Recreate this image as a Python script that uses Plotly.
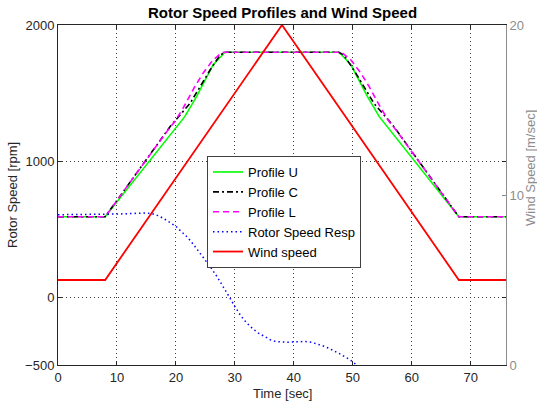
import plotly.graph_objects as go

# ---- data ----
t_u = [0, 8, 21.5, 23.5, 26.3, 28.3, 47.7, 49.7, 52.5, 54.5, 68, 76]
prof_u = [590, 590, 1326, 1473, 1706, 1800, 1800, 1706, 1473, 1326, 590, 590]

t_c = [0, 8, 19.0, 20.7, 22.4, 24.1, 25.8, 27.5, 28.4, 47.6, 48.5, 50.2, 51.9, 53.6, 55.3, 57.0, 68, 76]
prof_c = [590, 590, 1252, 1338, 1424, 1546, 1669, 1779, 1800, 1800, 1779, 1669, 1546, 1424, 1338, 1252, 590, 590]

t_l = [0, 8, 18.6, 19.8, 21.2, 23.2, 24.6, 26.3, 27.8, 28.2, 47.8, 48.2, 49.7, 51.4, 52.8, 54.8, 56.2, 57.4, 68, 76]
prof_l = [590, 590, 1225, 1289, 1387, 1546, 1645, 1743, 1796, 1800, 1800, 1796, 1743, 1645, 1546, 1387, 1289, 1225, 590, 590]

t_resp = [0, 2, 4, 6, 8, 10, 12, 14, 15, 16, 17, 18, 19, 20, 21, 22, 23, 24, 25, 26, 27, 28,
          29, 30, 31, 32, 33, 34, 35, 36, 37, 38, 39, 40, 41, 42, 43, 44, 45, 46, 47, 48, 49, 50, 50.5]
resp = [605, 605, 606, 607, 608, 610, 613, 617, 618, 612, 598, 575, 550, 520, 478, 438, 385, 330, 272, 212, 148, 80,
        5, -70, -138, -190, -232, -265, -292, -314, -328, -333, -333, -330, -327, -327, -333, -345, -360, -378, -398, -422, -448, -475, -495]

t_wind = [0, 8, 38, 68, 76]
wind = [5, 5, 20, 5, 5]

x_ticks = [0, 10, 20, 30, 40, 50, 60, 70]
y_ticks = [-500, 0, 1000, 2000]
y2_ticks = [0, 10, 20]

FONT = "Liberation Sans, Arial, sans-serif"
AX = "#262626"
GRAY = "#8c8c8c"
GRID = "#3a3a3a"

fig = go.Figure()
fig.add_trace(go.Scatter(x=t_u, y=prof_u, mode="lines", name="Profile U",
                         line=dict(color="#00ff00", width=1.6)))
fig.add_trace(go.Scatter(x=t_c, y=prof_c, mode="lines", name="Profile C",
                         line=dict(color="black", width=1.6, dash="6px,3px,2px,3px")))
fig.add_trace(go.Scatter(x=t_l, y=prof_l, mode="lines", name="Profile L",
                         line=dict(color="#ff00ff", width=1.6, dash="6px,4px")))
fig.add_trace(go.Scatter(x=t_resp, y=resp, mode="lines", name="Rotor Speed Resp",
                         line=dict(color="#0000ff", width=1.5, dash="1.5px,3px")))
fig.add_trace(go.Scatter(x=t_wind, y=wind, mode="lines", name="Wind speed", yaxis="y2",
                         line=dict(color="#ff0000", width=1.8)))

fig.update_layout(
    width=537, height=406,
    margin=dict(l=58, r=31, t=25, b=41, autoexpand=False),
    paper_bgcolor="white", plot_bgcolor="white",
    font=dict(family=FONT, size=13, color=AX),
    showlegend=True,
    legend=dict(x=(207 - 58) / 448, y=(365 - 156) / 340, xanchor="left", yanchor="top",
                bgcolor="white", bordercolor="#404040", borderwidth=1,
                font=dict(family=FONT, size=13, color="black"),
                tracegroupgap=0, itemwidth=30),
    xaxis=dict(range=[0, 76], tickvals=x_ticks, ticks="inside", ticklen=4, tickcolor=AX,
               showline=True, linecolor=AX, linewidth=1, mirror="ticks",
               showgrid=True, gridcolor=GRID, griddash="1px,3px", gridwidth=1,
               zeroline=False, tickfont=dict(size=13, color=AX)),
    yaxis=dict(range=[-500, 2000], tickvals=y_ticks, ticks="inside", ticklen=4, tickcolor=AX,
               showline=True, linecolor=AX, linewidth=1, mirror="ticks",
               showgrid=True, gridcolor=GRID, griddash="1px,3px", gridwidth=1,
               zeroline=False, tickfont=dict(size=13, color=AX)),
    yaxis2=dict(range=[0, 20], tickvals=y2_ticks, overlaying="y", side="right",
                ticks="inside", ticklen=4, tickcolor=GRAY,
                showline=True, linecolor=GRAY, linewidth=1,
                showgrid=False, zeroline=False, tickfont=dict(size=13, color=GRAY)),
    annotations=[
        dict(text="<b>Rotor Speed Profiles and Wind Speed</b>", xref="paper", yref="paper",
             x=0.5, y=1, yshift=13, xanchor="center", yanchor="middle", showarrow=False,
             font=dict(size=15, color="black", family=FONT)),
        dict(text="Time [sec]", xref="paper", yref="paper", x=0.5, y=0, yshift=-28,
             xanchor="center", yanchor="middle", showarrow=False,
             font=dict(size=13, color=AX, family=FONT)),
        dict(text="Rotor Speed [rpm]", xref="paper", yref="paper", x=0, xshift=-46, y=0.5,
             xanchor="center", yanchor="middle", textangle=-90, showarrow=False,
             font=dict(size=13, color=AX, family=FONT)),
        dict(text="Wind Speed [m/sec]", xref="paper", yref="paper", x=1, xshift=25, y=(365 - 168) / 340,
             xanchor="center", yanchor="middle", textangle=-90, showarrow=False,
             font=dict(size=13, color=GRAY, family=FONT)),
    ],
)

fig.write_html("out.html")
